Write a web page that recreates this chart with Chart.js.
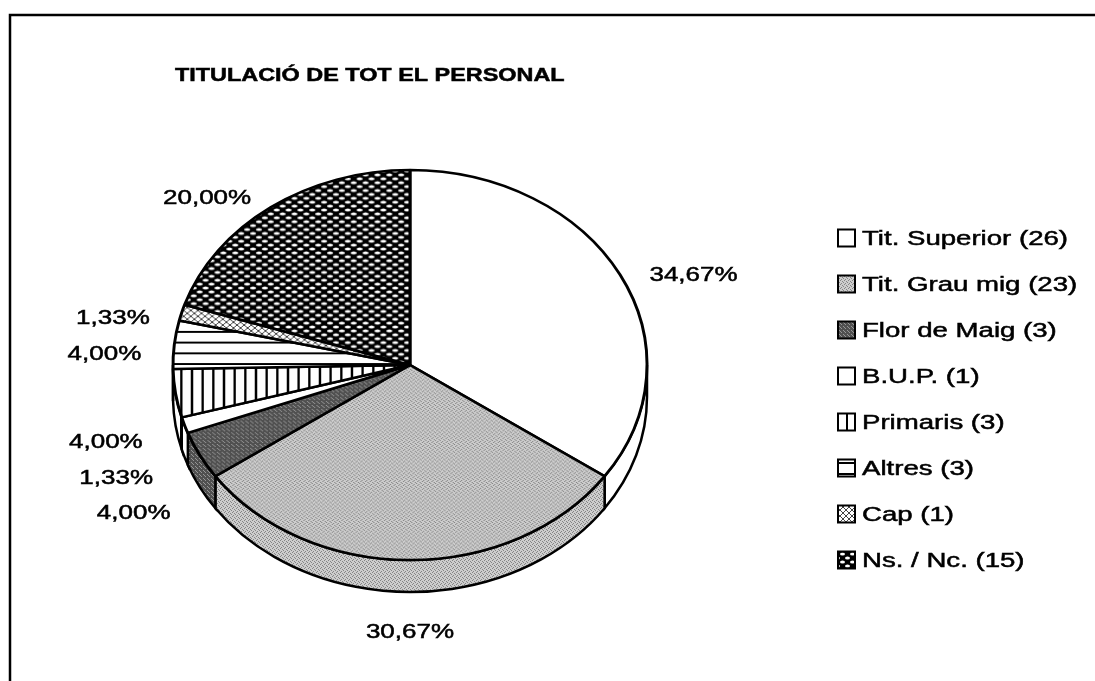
<!DOCTYPE html>
<html>
<head>
<meta charset="utf-8">
<script src="https://cdn.jsdelivr.net/npm/chart.js@4.4.0/dist/chart.umd.min.js"></script>
<style>
    html, body { margin: 0; padding: 0; background: #fff; }
    #wrap { position: relative; width: 1095px; height: 681px; }
</style>
</head>
<body>
<div id="wrap"><canvas id="myChart" width="1095" height="681"></canvas></div>
<script>
var titleText = 'TITULACIÓ DE TOT EL PERSONAL';
var categories = ['Tit. Superior', 'Tit. Grau mig', 'Flor de Maig', 'B.U.P.', 'Primaris', 'Altres', 'Cap', 'Ns. / Nc.'];
var counts = [26, 23, 3, 1, 3, 3, 1, 15];

// fill style per slice (scanned b/w hatchings)
var fillKinds = ['white', 'lightgrey', 'darkgrey', 'white', 'vlines', 'hlines', 'cross', 'dots'];

var fontFamily = '"Liberation Sans", Arial, Helvetica, sans-serif';
var stretchX = 1.185, stretchY = 0.975, depth = 32;   // fake 3D look
var labelReach = 1.14;

function makePattern(kind) {
    if (kind === 'white') return '#ffffff';
    var c = document.createElement('canvas');
    var g = c.getContext('2d');
    var i;
    if (kind === 'lightgrey') {
        c.width = 4; c.height = 4;
        g.fillStyle = '#cdcdcd'; g.fillRect(0, 0, 4, 4);
        g.fillStyle = '#858585';
        g.fillRect(0, 0, 1, 1); g.fillRect(2, 1, 1, 1); g.fillRect(1, 3, 1, 1); g.fillRect(3, 2, 1, 1);
    } else if (kind === 'darkgrey') {
        c.width = 4; c.height = 4;
        g.fillStyle = '#505050'; g.fillRect(0, 0, 4, 4);
        g.fillStyle = '#959595';
        g.fillRect(1, 0, 1, 1); g.fillRect(3, 2, 1, 1); g.fillRect(0, 3, 1, 1);
    } else if (kind === 'vlines') {
        c.width = 9; c.height = 4;
        g.fillStyle = '#fff'; g.fillRect(0, 0, 9, 4);
        g.fillStyle = '#000'; g.fillRect(0, 0, 2, 4);
    } else if (kind === 'hlines') {
        c.width = 4; c.height = 11;
        g.fillStyle = '#fff'; g.fillRect(0, 0, 4, 11);
        g.fillStyle = '#000'; g.fillRect(0, 0, 4, 2);
    } else if (kind === 'cross') {
        c.width = 6; c.height = 6;
        g.fillStyle = '#fff'; g.fillRect(0, 0, 6, 6);
        g.fillStyle = '#444';
        for (i = 0; i < 6; i++) { g.fillRect(i, i, 1, 1); g.fillRect(5 - i, i, 1, 1); }
    } else if (kind === 'dots') {
        c.width = 10; c.height = 8;
        g.fillStyle = '#000'; g.fillRect(0, 0, 10, 8);
        g.fillStyle = '#fff';
        g.beginPath(); g.ellipse(2.5, 2, 2.5, 1.6, 0, 0, Math.PI * 2); g.fill();
        g.beginPath(); g.ellipse(7.5, 6, 2.5, 1.6, 0, 0, Math.PI * 2); g.fill();
    }
    return g.createPattern(c, 'repeat');
}

var fills = fillKinds.map(makePattern);

function drawStretched(ctx, text, x, y, align, stretch) {
    var w = ctx.measureText(text).width * stretch;
    var left = align === 'left' ? x : (align === 'right' ? x - w : x - w / 2);
    ctx.save();
    ctx.translate(left, y);
    ctx.scale(stretch, 1);
    ctx.textAlign = 'left';
    ctx.textBaseline = 'middle';
    ctx.fillText(text, 0, 0);
    ctx.lineWidth = 0.5;
    ctx.strokeStyle = ctx.fillStyle;
    ctx.strokeText(text, 0, 0);
    ctx.restore();
}

// side wall + squash of the pie into an ellipse
var pie3d = {
    id: 'pie3d',
    beforeDatasetsDraw: function (chart) {
        var ctx = chart.ctx;
        var arcs = chart.getDatasetMeta(0).data;
        ctx.save();
        arcs.forEach(function (arc) {
            var a0 = Math.max(arc.startAngle, 0);
            var a1 = Math.min(arc.endAngle, Math.PI);
            if (a1 <= a0) return;
            var rx = arc.outerRadius * stretchX, ry = arc.outerRadius * stretchY;
            ctx.beginPath();
            ctx.ellipse(arc.x, arc.y + depth, rx, ry, 0, a0, a1);
            ctx.lineTo(arc.x + rx * Math.cos(a1), arc.y + ry * Math.sin(a1));
            ctx.ellipse(arc.x, arc.y, rx, ry, 0, a1, a0, true);
            ctx.closePath();
            ctx.fillStyle = arc.options.backgroundColor;
            ctx.fill();
            ctx.lineWidth = 2.5;
            ctx.strokeStyle = '#000';
            ctx.stroke();
        });
        ctx.restore();
        var c = arcs[0];
        ctx.save();
        ctx.translate(c.x, c.y);
        ctx.scale(stretchX, stretchY);
        ctx.translate(-c.x, -c.y);
    },
    afterDatasetsDraw: function (chart) {
        chart.ctx.restore();
    }
};

var decorations = {
    id: 'decorations',
    afterDraw: function (chart) {
        var ctx = chart.ctx;
        var arcs = chart.getDatasetMeta(0).data;
        var total = counts.reduce(function (a, b) { return a + b; }, 0);

        ctx.save();
        // frame
        ctx.strokeStyle = '#000';
        ctx.lineWidth = 2.5;
        ctx.beginPath();
        ctx.moveTo(10, 681);
        ctx.lineTo(10, 15);
        ctx.lineTo(1095, 15);
        ctx.stroke();

        ctx.fillStyle = '#000';
        // title
        ctx.font = 'bold 18px ' + fontFamily;
        drawStretched(ctx, titleText, 175, 76, 'left', 1.3);

        // percentage labels
        ctx.font = '20px ' + fontFamily;
        arcs.forEach(function (arc, i) {
            var mid = (arc.startAngle + arc.endAngle) / 2;
            var R = arc.outerRadius;
            var cm = Math.cos(mid), sm = Math.sin(mid);
            var x = arc.x + R * stretchX * labelReach * cm;
            var y = arc.y + R * stretchY * labelReach * sm + (sm > 0 ? depth : 0) + 13;
            var align = Math.abs(cm) < 0.3 ? 'center' : (cm > 0 ? 'left' : 'right');
            var txt = (counts[i] / total * 100).toFixed(2).replace('.', ',') + '%';
            ctx.fillStyle = '#000';
            drawStretched(ctx, txt, x, y, align, 1.3);
        });

        // legend
        var lx = 838, ly = 238, step = 46, box = 17;
        categories.forEach(function (name, i) {
            var y = ly + i * step;
            ctx.fillStyle = fills[i];
            ctx.fillRect(lx, y - box / 2, box, box);
            ctx.lineWidth = 2;
            ctx.strokeStyle = '#000';
            ctx.strokeRect(lx, y - box / 2, box, box);
            ctx.fillStyle = '#000';
            drawStretched(ctx, name + ' (' + counts[i] + ')', lx + 24, y + 1, 'left', 1.38);
        });
        ctx.restore();
    }
};

var ctx = document.getElementById('myChart').getContext('2d');
var myChart = new Chart(ctx, {
    type: 'pie',
    data: {
        labels: categories,
        datasets: [{
            data: counts,
            backgroundColor: fills,
            borderColor: '#000',
            borderWidth: 2.5,
            hoverOffset: 0,
            clip: false
        }]
    },
    options: {
        responsive: false,
        animation: false,
        events: [],
        radius: 200,
        layout: { padding: { left: 210, right: 485, top: 165, bottom: 116 } },
        plugins: {
            legend: { display: false },
            tooltip: { enabled: false }
        }
    },
    plugins: [pie3d, decorations]
});
</script>
</body>
</html>
